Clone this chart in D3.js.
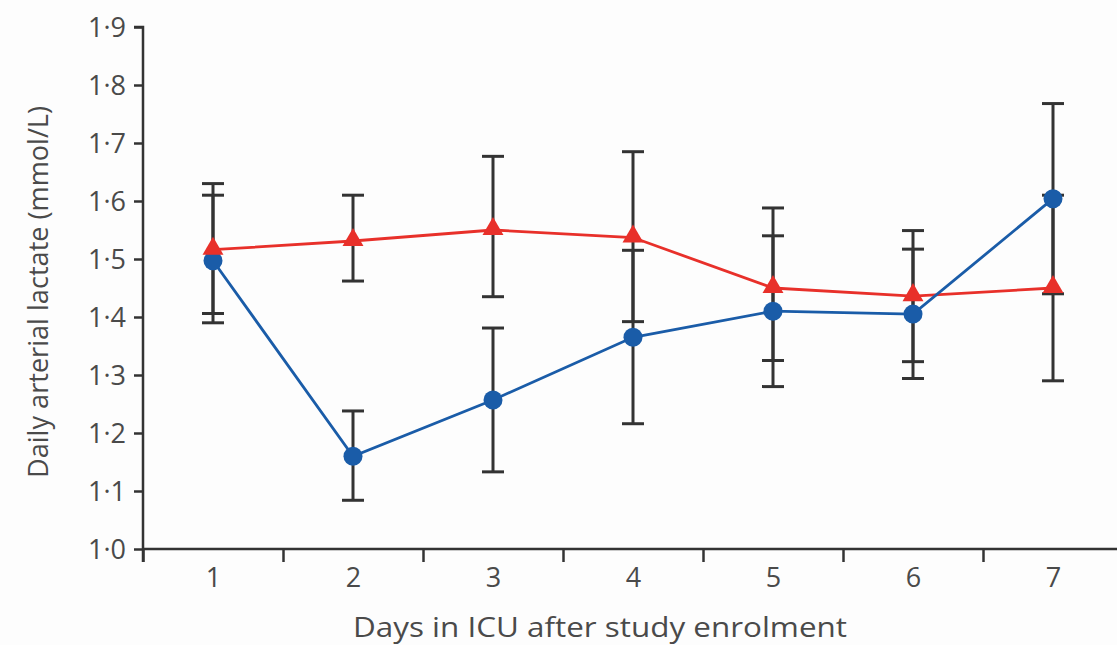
<!DOCTYPE html>
<html>
<head>
<meta charset="utf-8">
<script src="https://cdn.jsdelivr.net/npm/d3@7"></script>
<style>
  html, body { margin: 0; padding: 0; background: #fdfdfd; }
  svg { display: block; }
  text { font-family: "Open Sans", "Liberation Sans", sans-serif; fill: #4a4a4a; }
</style>
</head>
<body>
<svg id="chart" width="1117" height="645"></svg>
<script>
// Daily arterial lactate by day in ICU, two study groups (mean with error bars)
const days = [1, 2, 3, 4, 5, 6, 7];

const redMean  = [1.516, 1.531, 1.550, 1.537, 1.450, 1.436, 1.450];
const redLow   = [1.406, 1.462, 1.435, 1.392, 1.325, 1.323, 1.290];
const redHigh  = [1.630, 1.610, 1.677, 1.685, 1.588, 1.549, 1.610];

const blueMean = [1.497, 1.160, 1.257, 1.365, 1.410, 1.405, 1.604];
const blueLow  = [1.390, 1.084, 1.133, 1.216, 1.280, 1.294, 1.440];
const blueHigh = [1.610, 1.238, 1.381, 1.515, 1.540, 1.517, 1.768];

const yTicks = [1.0, 1.1, 1.2, 1.3, 1.4, 1.5, 1.6, 1.7, 1.8, 1.9];
const xTitle = "Days in ICU after study enrolment";
const yTitle = "Daily arterial lactate (mmol/L)";

const svg = d3.select("#chart");

const plotLeft = 143, plotRight = 1123, plotTop = 27, plotBottom = 549;
const x = d3.scaleLinear().domain([0.5, 7.5]).range([plotLeft, plotRight]);
const y = d3.scaleLinear().domain([1.0, 1.9]).range([plotBottom, plotTop]);

const axisColor = "#333";
const labelColor = "#4a4a4a";

// y axis
const yAxis = svg.append("g")
  .attr("transform", `translate(${plotLeft},0)`)
  .call(d3.axisLeft(y).tickValues(yTicks).tickSize(9).tickPadding(8)
        .tickFormat(d => d.toFixed(1).replace(".", "\u00B7")));
yAxis.select(".domain").attr("stroke", axisColor).attr("stroke-width", 2.5)
  .attr("d", `M-9,${y(1.9)}H0V${plotBottom + 13}`);
yAxis.selectAll(".tick line").attr("stroke", axisColor).attr("stroke-width", 2.5);
yAxis.selectAll(".tick text").style("font-size", "27px").attr("fill", labelColor)
  .style("font-family", "'Open Sans', sans-serif").attr("dy", "0.36em");

// x axis: ticks on day boundaries
const boundaries = d3.range(0.5, 8, 1);
const xAxis = svg.append("g")
  .attr("transform", `translate(0,${plotBottom})`)
  .call(d3.axisBottom(x).tickValues(boundaries).tickSize(13).tickFormat(""));
xAxis.select(".domain").attr("stroke", axisColor).attr("stroke-width", 2.5)
  .attr("d", `M${plotLeft},0H1117`);
xAxis.selectAll(".tick line").attr("stroke", axisColor).attr("stroke-width", 2.5);

// x axis: day labels centred in each band
const xLabels = svg.append("g")
  .attr("transform", `translate(0,${plotBottom})`)
  .call(d3.axisBottom(x).tickValues(days).tickSize(0).tickPadding(19).tickFormat(d3.format("d")));
xLabels.select(".domain").remove();
xLabels.selectAll(".tick text").style("font-size", "27px").attr("fill", labelColor)
  .style("font-family", "'Open Sans', sans-serif");

// axis titles
svg.append("text")
  .attr("x", 600).attr("y", 637)
  .attr("text-anchor", "middle")
  .style("font-size", "28px")
  .attr("textLength", 494).attr("lengthAdjust", "spacingAndGlyphs")
  .text(xTitle);

svg.append("text")
  .attr("transform", `translate(48,${292}) rotate(-90)`)
  .attr("text-anchor", "middle")
  .style("font-size", "27px")
  .attr("textLength", 372).attr("lengthAdjust", "spacingAndGlyphs")
  .text(yTitle);

const series = [
  { name: "red", color: "#e8302a", mean: redMean, low: redLow, high: redHigh },
  { name: "blue", color: "#1a5ca8", mean: blueMean, low: blueLow, high: blueHigh }
];

// error bars
const capHalf = 11;
const bars = svg.append("g").attr("stroke", "#333").attr("stroke-width", 3);
series.forEach(s => {
  days.forEach((d, i) => {
    const cx = x(d);
    bars.append("line").attr("x1", cx).attr("x2", cx)
      .attr("y1", y(s.low[i])).attr("y2", y(s.high[i]));
    [s.low[i], s.high[i]].forEach(v => {
      bars.append("line").attr("x1", cx - capHalf).attr("x2", cx + capHalf)
        .attr("y1", y(v)).attr("y2", y(v));
    });
  });
});

// lines
const line = d3.line().x((d, i) => x(days[i])).y(d => y(d));
series.forEach(s => {
  svg.append("path").datum(s.mean)
    .attr("fill", "none").attr("stroke", s.color).attr("stroke-width", 2.8)
    .attr("d", line);
});

// markers: blue circles, then red triangles on top
svg.append("g").selectAll("circle").data(blueMean).join("circle")
  .attr("cx", (d, i) => x(days[i])).attr("cy", d => y(d))
  .attr("r", 9.5).attr("fill", "#1a5ca8");

svg.append("g").selectAll("path").data(redMean).join("path")
  .attr("transform", (d, i) => `translate(${x(days[i])},${y(d) - 1})`)
  .attr("d", d3.symbol().type(d3.symbolTriangle).size(190))
  .attr("fill", "#e8302a");
</script>
</body>
</html>
